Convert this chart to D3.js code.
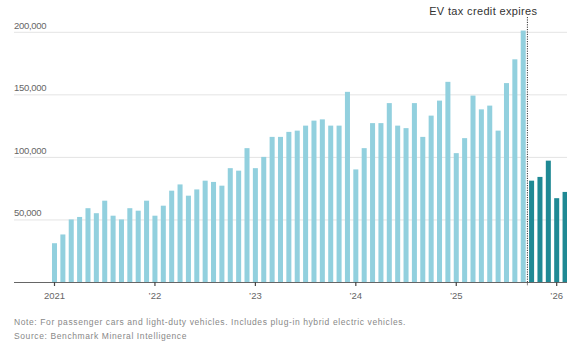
<!DOCTYPE html>
<html>
<head>
<meta charset="utf-8">
<script src="https://cdn.jsdelivr.net/npm/d3@7"></script>
<style>
  html, body { margin: 0; padding: 0; background: #fff; }
  svg { display: block; font-family: "Liberation Sans", Arial, sans-serif; }
</style>
</head>
<body>
<svg id="chart" width="567" height="344"></svg>
<script>
// Monthly US EV sales (passenger cars and light-duty vehicles), Jan 2021 – Feb 2026
const years = [2021, 2022, 2023, 2024, 2025, 2026];
const sales2021 = [31000, 38000, 50000, 52000, 59000, 55000, 65000, 53000, 50000, 59000, 57000, 65000];
const sales2022 = [53000, 61000, 73000, 78000, 69000, 74000, 81000, 80000, 77000, 91000, 89000, 107000];
const sales2023 = [91000, 100000, 116000, 116000, 120000, 121000, 125000, 129000, 130000, 125000, 125000, 152000];
const sales2024 = [90000, 107000, 127000, 127000, 143000, 125000, 123000, 143000, 116000, 133000, 145000, 160000];
const sales2025 = [103000, 115000, 149000, 138000, 141000, 121000, 159000, 178000, 201000, 81000, 84000, 97000];
const sales2026 = [67000, 72000];

const yTicks = [50000, 100000, 150000, 200000];
const xTickLabels = ["2021", "\u201922", "\u201923", "\u201924", "\u201925", "\u201926"];
const expiryMonth = "2025-09"; // last month with the federal EV tax credit
const annotation = "EV tax credit expires";
const note = "Note: For passenger cars and light-duty vehicles. Includes plug-in hybrid electric vehicles.";
const source = "Source: Benchmark Mineral Intelligence";

// Flatten to month records
const allSeries = [sales2021, sales2022, sales2023, sales2024, sales2025, sales2026];
const data = [];
allSeries.forEach((vals, yi) => {
  vals.forEach((v, m) => {
    data.push({ key: `${years[yi]}-${String(m + 1).padStart(2, "0")}`, value: v });
  });
});
const expiryIndex = data.findIndex(d => d.key === expiryMonth);

const svg = d3.select("#chart");
const step = 8.37;
const firstCenter = 54.5;
const x = d3.scaleBand()
  .domain(data.map(d => d.key))
  .range([firstCenter - step / 2, firstCenter - step / 2 + step * data.length])
  .paddingInner(0.4)
  .paddingOuter(0.2);

const y = d3.scaleLinear().domain([0, 200000]).range([282, 31.8]);

// Gridlines and y labels
const yAxis = svg.append("g")
  .attr("transform", "translate(14,0)")
  .call(d3.axisRight(y).tickValues(yTicks).tickSize(567 - 14).tickFormat(d3.format(",")));
yAxis.select(".domain").remove();
yAxis.selectAll(".tick line").attr("stroke", "#e4e4e4").attr("stroke-width", 1);
yAxis.selectAll(".tick text")
  .attr("x", 0).attr("dy", -3.5)
  .attr("text-anchor", "start")
  .attr("fill", "#666")
  .attr("font-size", 9.5)
  .attr("font-family", "'Liberation Sans', Arial, sans-serif")
  .style("letter-spacing", "-0.3px")
  .attr("dominant-baseline", "auto");

// Bars
svg.append("g").selectAll("rect")
  .data(data)
  .join("rect")
  .attr("x", d => x(d.key))
  .attr("width", x.bandwidth())
  .attr("y", d => y(d.value))
  .attr("height", d => y(0) - y(d.value))
  .attr("fill", (d, i) => i <= expiryIndex ? "#92d0de" : "#1f8994");

// X axis
const janKeys = years.map(yr => `${yr}-01`);
const xAxis = svg.append("g")
  .attr("transform", `translate(0,${y(0)})`)
  .call(d3.axisBottom(x).tickValues(janKeys).tickSize(4).tickSizeOuter(0)
    .tickFormat((d, i) => xTickLabels[i]));
xAxis.select(".domain").attr("d", `M14,0.5H567`).attr("stroke", "#666").attr("stroke-width", 1);
xAxis.selectAll(".tick line").attr("stroke", "#444").attr("stroke-width", 1.2);
xAxis.selectAll(".tick text")
  .attr("fill", "#666")
  .attr("font-size", 9.5)
  .attr("y", 10);

// Tax-credit expiry marker
const markerX = x(expiryMonth) + x.step() * 0.8;
svg.append("line")
  .attr("x1", markerX).attr("x2", markerX)
  .attr("y1", 17).attr("y2", y(0) + 4)
  .attr("stroke", "#333")
  .attr("stroke-width", 1)
  .attr("stroke-dasharray", "1.2,1.2");

svg.append("text")
  .attr("x", markerX + 10).attr("y", 15)
  .attr("text-anchor", "end")
  .attr("fill", "#333")
  .attr("font-size", 11)
  .style("letter-spacing", "0.35px")
  .text(annotation);

// Footnotes
svg.append("text")
  .attr("x", 14).attr("y", 325)
  .attr("fill", "#888")
  .attr("font-size", 8.5)
  .style("letter-spacing", "0.6px")
  .text(note);
svg.append("text")
  .attr("x", 14).attr("y", 339)
  .attr("fill", "#888")
  .attr("font-size", 8.5)
  .style("letter-spacing", "0.6px")
  .text(source);
</script>
</body>
</html>
